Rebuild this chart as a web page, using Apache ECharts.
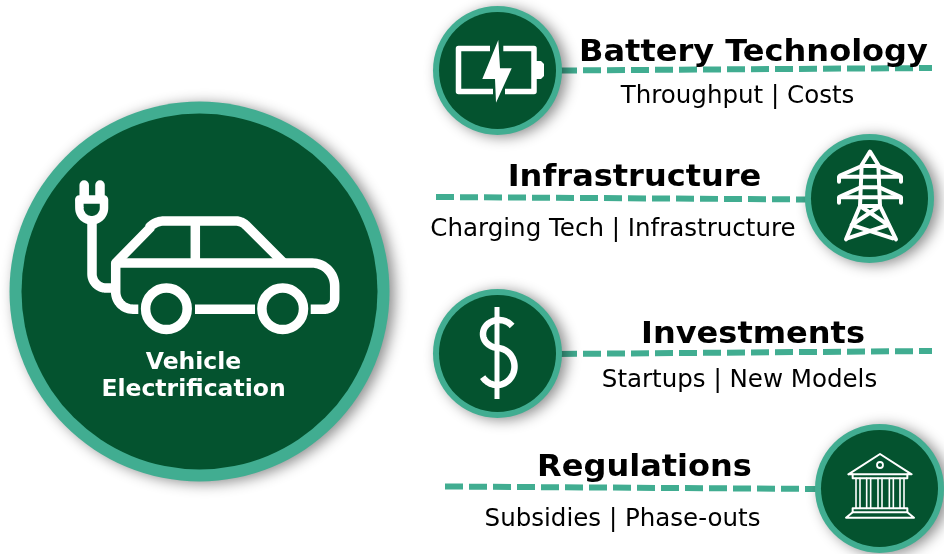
<!DOCTYPE html>
<html>
<head>
<meta charset="UTF-8">
<script src="https://cdn.jsdelivr.net/npm/echarts@6/dist/echarts.min.js"></script>
<style>
    html, body { margin: 0; padding: 0; background: #fff; }
    #main { width: 944px; height: 554px; }
</style>
</head>
<body>
<div id="main"></div>
<script>
    var centerLabel = ['Vehicle', 'Electrification'];
    var topicTitles = ['Battery Technology', 'Infrastructure', 'Investments', 'Regulations'];
    var topicSubtitles = ['Throughput | Costs', 'Charging Tech | Infrastructure', 'Startups | New Models', 'Subsidies | Phase-outs'];

    var RING = '#41AD91';
    var DARK = '#04532F';
    var WHITE = '#ffffff';
    var FONT = '"DejaVu Sans", Verdana, sans-serif';

    var myChart = echarts.init(document.getElementById('main'), null, { renderer: 'canvas' });
    var els = [];

    function line(points, w, cap) {
        els.push({
            type: 'polyline',
            shape: { points: points },
            style: { stroke: WHITE, fill: null, lineWidth: w, lineCap: cap || 'round', lineJoin: 'round' }
        });
    }
    function fillPoly(points, color) {
        els.push({ type: 'polygon', shape: { points: points }, style: { fill: color || WHITE } });
    }
    function ring(cx, cy, r, w) {
        els.push({ type: 'circle', shape: { cx: cx, cy: cy, r: r }, style: { fill: null, stroke: WHITE, lineWidth: w } });
    }
    // points along an ellipse, angles in degrees, clockwise on screen
    function arc(cx, cy, rx, ry, a0, a1) {
        var pts = [];
        var n = Math.max(4, Math.ceil(Math.abs(a1 - a0) / 6));
        for (var i = 0; i <= n; i++) {
            var a = (a0 + (a1 - a0) * i / n) * Math.PI / 180;
            pts.push([cx + rx * Math.cos(a), cy + ry * Math.sin(a)]);
        }
        return pts;
    }
    function badge(cx, cy, r, w) {
        els.push({
            type: 'circle',
            shape: { cx: cx, cy: cy, r: r },
            style: { fill: RING, shadowBlur: 14, shadowOffsetX: 5, shadowOffsetY: 2, shadowColor: 'rgba(0,0,0,0.45)' }
        });
        els.push({ type: 'circle', shape: { cx: cx, cy: cy, r: r - w }, style: { fill: DARK } });
    }
    // each dash is its own segment so the 18/6 rhythm stays crisp
    function dashes(x1, y1, x2, y2) {
        var len = x2 - x1;
        for (var s = 0; s < len; s += 24) {
            var e = Math.min(s + 18, len);
            els.push({
                type: 'line',
                shape: { x1: x1 + s, y1: y1 + (y2 - y1) * s / len, x2: x1 + e, y2: y1 + (y2 - y1) * e / len },
                style: { stroke: RING, lineWidth: 6 }
            });
        }
    }
    function label(text, x, y, size, bold, color, stretch) {
        els.push({
            type: 'text',
            x: x,
            y: y,
            scaleX: stretch || 1,
            style: {
                text: text, x: 0, y: 0, fill: color || '#000',
                font: (bold ? 'bold ' : '') + size + 'px ' + FONT,
                textAlign: 'center', textVerticalAlign: 'bottom'
            }
        });
    }

    // connector lines sit under the badges and the titles
    dashes(559, 70.5, 932, 68);
    dashes(436, 197, 812, 199.5);
    dashes(559, 354, 932, 351);
    dashes(445, 486.5, 822, 489);

    // big circle with the car
    badge(199.5, 291.5, 190, 12);
    line([[84.2, 185], [84.2, 196]], 9.5);
    line([[100, 185], [100, 196]], 9.5);
    line([[79.3, 199.5], [104, 199.5], [104, 208]].concat(arc(91.7, 208, 12.3, 12.3, 0, 180)).concat([[79.3, 199.5]]), 8.5);
    line([[92, 222], [92, 274]].concat(arc(106, 274, 14, 14, 180, 90)).concat([[116, 288]]), 9.5, 'butt');
    line([[138.3, 309.2], [133, 309.2]].concat(arc(133, 292, 17.3, 17.2, 90, 180)).concat([[115.7, 263], [150, 228]]).concat(arc(164, 241, 20, 20, 225, 270)).concat([[235.6, 221]]).concat(arc(235.6, 236, 15, 15, 270, 315)).concat([[283.8, 263]]), 9.5, 'butt');
    line([[115.7, 263], [312, 263]].concat(arc(312, 286, 22.7, 23, 270, 360)).concat([[334.7, 299]]).concat(arc(324.7, 299, 10, 10.2, 0, 90)).concat([[310.7, 309.2]]), 9.5, 'butt');
    line([[195.3, 221], [195.3, 263]], 9.5, 'butt');
    line([[195, 309.2], [255, 309.2]], 9.5, 'butt');
    ring(166.4, 308.8, 20.8, 9.5);
    ring(282.7, 308.8, 20.8, 9.5);
    label(centerLabel[0], 193.5, 374.5, 23.5, true, WHITE, 1);
    label(centerLabel[1], 193.5, 402, 23.5, true, WHITE, 1);

    // battery
    badge(497.5, 70.5, 64.5, 6);
    line([[490, 48.5], [458.5, 48.5], [458.5, 91.5], [493, 91.5]], 5.5, 'butt');
    line([[503.3, 48.5], [534, 48.5], [534, 91.5], [505, 91.5]], 5.5, 'butt');
    fillPoly([[536, 61], [541, 61], [544, 64], [544, 76], [541, 79], [536, 79]]);
    fillPoly([[498.3, 40], [482.3, 79], [495, 79], [496, 102.7], [511.7, 68.3], [500, 68.3]]);

    // pylon
    badge(869.5, 198.5, 64.5, 6);
    function tower(a) {
        line(a.map(function (p) { return [810 + p[0] / 3, 140 + p[1] / 3]; }), 4);
    }
    tower([[108, 298], [150, 198], [155, 75], [180, 35], [205, 75], [210, 198], [258, 298]]);
    tower([[87, 125], [87, 110], [273, 110], [273, 125]]);
    tower([[90, 107], [155, 78], [205, 78], [270, 107]]);
    tower([[87, 188], [87, 172], [273, 172], [273, 188]]);
    tower([[90, 170], [152, 142], [208, 142], [270, 170]]);
    tower([[150, 198], [210, 198]]);
    tower([[150, 198], [235, 255], [112, 295]]);
    tower([[210, 198], [125, 255], [248, 295]]);

    // dollar
    badge(497.5, 353.5, 64.5, 6);
    line([[497, 307], [497, 399]], 5, 'butt');
    line(arc(499, 334, 16, 14, -35, -270).concat(arc(497, 366.5, 17.5, 18.5, -90, 145)), 6.5, 'butt');

    // bank
    badge(879.5, 488.5, 64.5, 6);
    function bank(a, w) {
        line(a.map(function (p) { return [800 + p[0] / 3, 415 + p[1] / 3]; }), w || 2);
    }
    bank([[145, 178], [240, 117], [335, 178], [145, 178]]);
    ring(880, 465, 3, 1.8);
    bank([[158, 178], [158, 190], [322, 190], [322, 178]]);
    [168, 180, 200, 212, 234, 246, 268, 280, 300, 312].forEach(function (x) {
        bank([[x, 190], [x, 280]], 1.6);
    });
    bank([[158, 280], [322, 280], [322, 292], [158, 292], [158, 280]]);
    bank([[158, 292], [138, 308], [342, 308], [322, 292]]);

    // titles and subtitles
    label(topicTitles[0], 753.5, 68.5, 31, true, '#000', 1.033);
    label(topicSubtitles[0], 737.5, 109, 24, false, '#000', 1.022);
    label(topicTitles[1], 634.5, 193.5, 31, true, '#000', 1.033);
    label(topicSubtitles[1], 613, 242, 24, false, '#000', 1.022);
    label(topicTitles[2], 753, 350.5, 31, true, '#000', 1.033);
    label(topicSubtitles[2], 739.5, 393, 24, false, '#000', 1.022);
    label(topicTitles[3], 644.5, 483.5, 31, true, '#000', 1.033);
    label(topicSubtitles[3], 622.5, 532, 24, false, '#000', 1.022);

    var option = {
        backgroundColor: '#ffffff',
        animation: false,
        graphic: { elements: els }
    };
    myChart.setOption(option);
</script>
</body>
</html>
